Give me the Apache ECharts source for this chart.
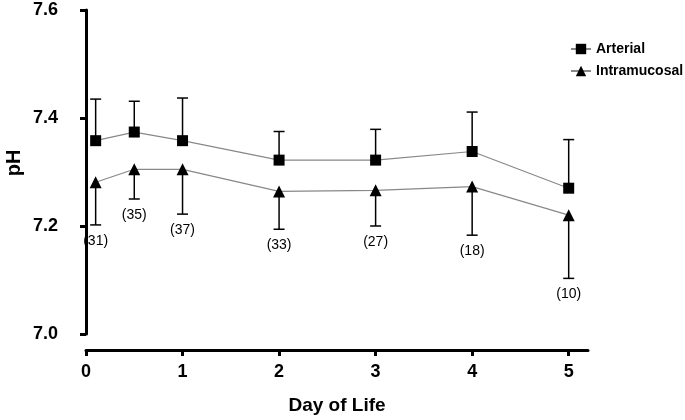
<!DOCTYPE html>
<html>
<head>
<meta charset="utf-8">
<script src="https://cdn.jsdelivr.net/npm/echarts@6/dist/echarts.min.js"></script>
<style>html,body{margin:0;padding:0;background:#fff;}#c{width:685px;height:420px;}</style>
</head>
<body>
<div id="c"></div>
<script>
// Data
const days = [0.1, 0.5, 1, 2, 3, 4, 5];
const arterialMean = [7.358, 7.374, 7.358, 7.322, 7.322, 7.338, 7.270];
const arterialUpper = [7.435, 7.431, 7.437, 7.375, 7.379, 7.411, 7.360];
const intraMean = [7.281, 7.305, 7.305, 7.264, 7.266, 7.273, 7.220];
const intraLower = [7.202, 7.250, 7.222, 7.194, 7.200, 7.183, 7.103];
const counts = [31, 35, 37, 33, 27, 18, 10];
const xTicks = [0, 1, 2, 3, 4, 5];
const yTicks = [7.0, 7.2, 7.4, 7.6];

const FONT = '"Liberation Sans", Arial, Helvetica, sans-serif';

function errRender(params, api) {
  const x = api.value(0), m = api.value(1), e = api.value(2);
  const p0 = api.coord([x, m]), p1 = api.coord([x, e]);
  const w = 5.5;
  return {
    type: 'group',
    children: [
      {type: 'line', shape: {x1: p0[0], y1: p0[1], x2: p1[0], y2: p1[1]}, style: {stroke: '#000', lineWidth: 1.5}},
      {type: 'line', shape: {x1: p1[0] - w, y1: p1[1], x2: p1[0] + w, y2: p1[1]}, style: {stroke: '#000', lineWidth: 1.5}}
    ]
  };
}
function countRender(params, api) {
  const x = api.value(0), e = api.value(1), n = api.value(2);
  const p = api.coord([x, e]);
  return {
    type: 'text', x: p[0], y: p[1] + 16,
    style: {text: '(' + n + ')', textAlign: 'center', textVerticalAlign: 'middle', font: '14px ' + FONT, fill: '#000'}
  };
}

const chart = echarts.init(document.getElementById('c'), null, {renderer: 'canvas'});
chart.setOption({
  animation: false,
  backgroundColor: '#fff',
  grid: {left: 86, right: 97, top: 10, bottom: 83, containLabel: false},
  legend: {
    data: ['Arterial', 'Intramucosal'],
    orient: 'vertical', left: 565, top: 37,
    itemWidth: 20, itemHeight: 13, itemGap: 8,
    textStyle: {fontFamily: FONT, fontWeight: 'bold', fontSize: 14, color: '#000'}
  },
  xAxis: {
    type: 'value', min: 0, max: 5.2, interval: 1, offset: 16,
    splitLine: {show: false},
    axisLine: {show: true, onZero: false, lineStyle: {color: '#000', width: 3}},
    axisTick: {show: true, length: 6, lineStyle: {color: '#000', width: 3}, customValues: xTicks},
    axisLabel: {color: '#000', fontFamily: FONT, fontWeight: 'bold', fontSize: 18, margin: 13, customValues: xTicks},
    name: 'Day of Life', nameLocation: 'middle', nameGap: 46,
    nameTextStyle: {color: '#000', fontFamily: FONT, fontWeight: 'bold', fontSize: 19}
  },
  yAxis: {
    type: 'value', min: 7.0, max: 7.6, interval: 0.2, offset: 19,
    splitLine: {show: false},
    axisLine: {show: true, lineStyle: {color: '#000', width: 3}},
    axisTick: {show: true, length: 6, lineStyle: {color: '#000', width: 3}},
    axisLabel: {color: '#000', fontFamily: FONT, fontWeight: 'bold', fontSize: 18, margin: 9,
      formatter: v => v.toFixed(1)}
  },
  graphic: [{
    type: 'text', x: 14, y: 163, rotation: Math.PI / 2,
    style: {text: 'pH', textAlign: 'center', textVerticalAlign: 'middle', font: 'bold 20px ' + FONT, fill: '#000'}
  }],
  series: [
    {
      type: 'custom', name: 'errA', renderItem: errRender, z: 1, silent: true,
      data: days.map((d, i) => [d, arterialMean[i], arterialUpper[i]])
    },
    {
      type: 'custom', name: 'errI', renderItem: errRender, z: 1, silent: true,
      data: days.map((d, i) => [d, intraMean[i], intraLower[i]])
    },
    {
      type: 'custom', name: 'counts', renderItem: countRender, z: 1, silent: true,
      data: days.map((d, i) => [d, intraLower[i], counts[i]])
    },
    {
      type: 'line', name: 'Arterial', z: 3,
      data: days.map((d, i) => [d, arterialMean[i]]),
      symbol: 'rect', symbolSize: 11,
      itemStyle: {color: '#000'},
      lineStyle: {color: '#888', width: 1.2}
    },
    {
      type: 'line', name: 'Intramucosal', z: 3,
      data: days.map((d, i) => [d, intraMean[i]]),
      symbol: 'triangle', symbolSize: 12,
      itemStyle: {color: '#000'},
      lineStyle: {color: '#888', width: 1.2}
    }
  ]
});
</script>
</body>
</html>
